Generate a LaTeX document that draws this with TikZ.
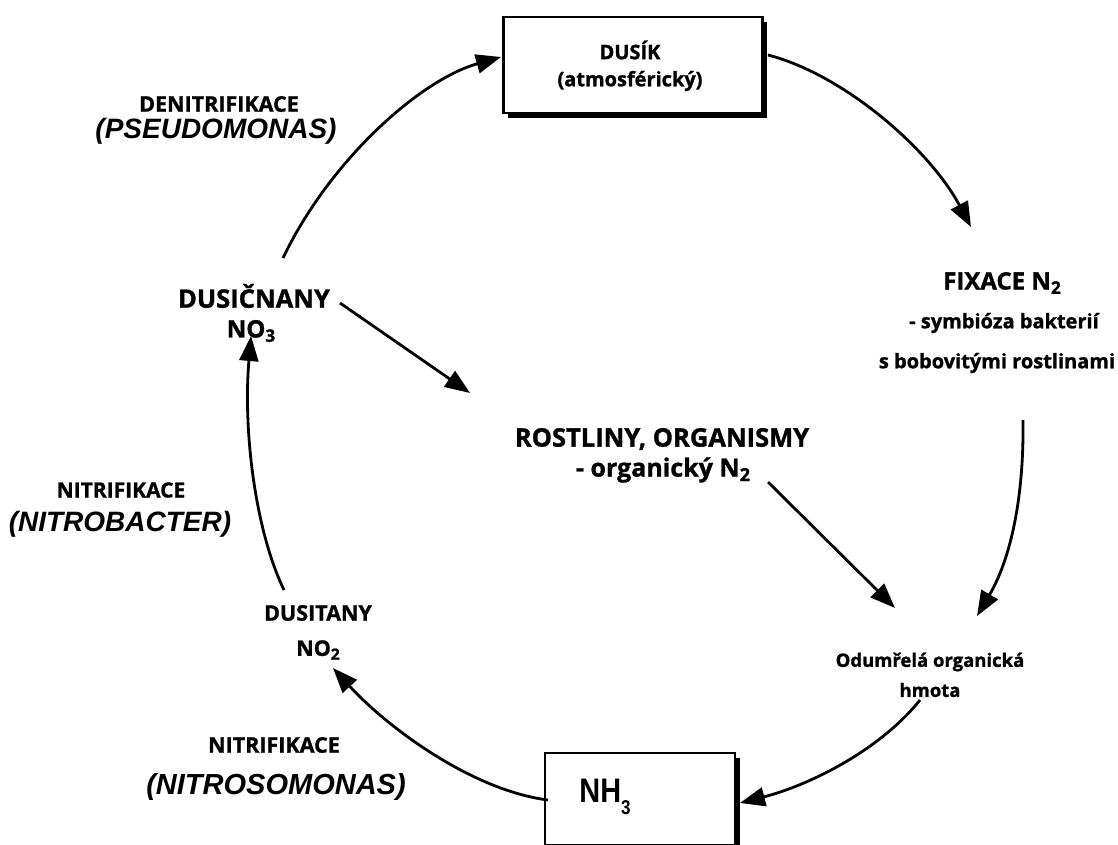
\documentclass[tikz,border=0pt]{standalone}
\usepackage{fontspec}
\setmainfont{Open Sans}[BoldFeatures={FakeBold=1.2}]
\newfontfamily\genusfont{Liberation Sans}
\usetikzlibrary{arrows.meta}

% subscript digit set slightly below the baseline
\newcommand{\lowidx}[1]{\raisebox{-0.18em}{\scalebox{0.72}{#1}}}
\newcommand{\fs}[1]{\fontsize{#1}{#1}\selectfont}

\tikzset{
  flow/.style={line width=2.8pt, -{Triangle[length=25pt,width=19pt]}},
  lbl/.style={inner sep=0pt, align=center},
  genus/.style={inner sep=0pt},
  pool/.style={draw, line width=2.2pt, fill=white, inner sep=0pt},
}

\begin{document}
\begin{tikzpicture}[x=1pt, y=-1pt]
\useasboundingbox (0,0) rectangle (1118,845);

% --- boxed pools with drop shadow ---
\fill (508,22) rectangle (767,118);
\node[pool, minimum width=259pt, minimum height=96pt] (dusik) at (633,65) {};
\node[lbl, font=\bfseries\fs{20}] at (630,50) {DUSÍK};
\node[lbl, font=\bfseries\fs{20}] at (630,81) {(atmosférický)};

\fill (550,758) rectangle (740,850);
\node[pool, minimum width=190pt, minimum height=92pt] (nh3box) at (640,799) {};
\node[inner sep=0pt, font=\genusfont\bfseries\fs{34}] (nh3) at (605,797)
  {\scalebox{0.85}[1]{NH\raisebox{-0.35em}{\fs{20}3}}};

% --- labels ---
\node[lbl, font=\bfseries\fs{21.5}] (denit) at (219,104) {DENITRIFIKACE};
\node[genus, font=\genusfont\bfseries\itshape\fs{28}] (pseudo) at (216,131) {(PSEUDOMONAS)};

\node[lbl, font=\bfseries\fs{25.5}] (dusicnany) at (254,296) {DUSIČNANY};
\node[lbl, font=\bfseries\fs{24}] (no3) at (251,331) {NO\lowidx{3}};

\node[lbl, font=\bfseries\fs{24}] (fixace) at (1002,283) {FIXACE N\lowidx{2}};
\node[lbl, font=\bfseries\fs{20}] (symb) at (1004,323) {- symbióza bakterií};
\node[lbl, font=\bfseries\fs{20}] (bob) at (997,363) {s bobovitými rostlinami};

\node[lbl, font=\bfseries\fs{25.5}] (rost) at (662,439) {ROSTLINY, ORGANISMY};
\node[lbl, font=\bfseries\fs{25}] (orgn) at (663,470) {- organický N\lowidx{2}};

\node[lbl, font=\bfseries\fs{21}] (nitr1) at (121,490) {NITRIFIKACE};
\node[genus, font=\genusfont\bfseries\itshape\fs{28}] (bacter) at (120,524) {(NITROBACTER)};

\node[lbl, font=\bfseries\fs{21.5}] (dusitany) at (318,613) {DUSITANY};
\node[lbl, font=\bfseries\fs{21.5}] (no2) at (318,650) {NO\lowidx{2}};

\node[lbl, font=\bfseries\fs{18.5}] (odum) at (930,662) {Odumřelá organická};
\node[lbl, font=\bfseries\fs{18.5}] (hmota) at (930,690) {hmota};

\node[lbl, font=\bfseries\fs{21.5}] (nitr2) at (274,745) {NITRIFIKACE};
\node[genus, font=\genusfont\bfseries\itshape\fs{29}] (somonas) at (276,787) {(NITROSOMONAS)};

% --- connector end points ---
\coordinate (c1s) at (283,258);   \coordinate (c1e) at (501,57);
\coordinate (c2s) at (768,55);    \coordinate (c2e) at (971,227);
\coordinate (c3s) at (1023,420);  \coordinate (c3e) at (977,616);
\coordinate (c4s) at (920,700);   \coordinate (c4e) at (740,803);
\coordinate (c5s) at (548,800);   \coordinate (c5e) at (333,668);
\coordinate (c6s) at (284,590);   \coordinate (c6e) at (251,336);
\coordinate (c7s) at (340,303);   \coordinate (c7e) at (470,393);
\coordinate (c8s) at (768,482);   \coordinate (c8e) at (895,608);

% --- cycle ---
\draw[flow] (c1s) .. controls (330,160) and (420,80) .. (c1e);
\draw[flow] (c2s) .. controls (845,75) and (930,150) .. (c2e);
\draw[flow] (c3s) .. controls (1024,500) and (1010,560) .. (c3e);
\draw[flow] (c4s) .. controls (880,750) and (810,785) .. (c4e);
\draw[flow] (c5s) .. controls (470,790) and (385,725) .. (c5e);
\draw[flow] (c6s) .. controls (255,530) and (243,430) .. (c6e);
\draw[flow] (c7s) -- (c7e);
\draw[flow] (c8s) -- (c8e);
\end{tikzpicture}
\end{document}
